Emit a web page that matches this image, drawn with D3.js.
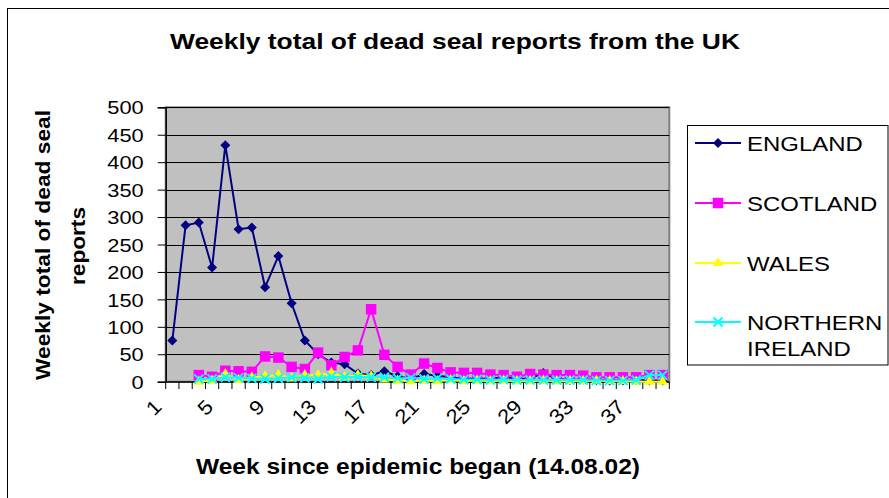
<!DOCTYPE html>
<html>
<head>
<meta charset="utf-8">
<script src="https://cdn.jsdelivr.net/npm/d3@7"></script>
<style>
  body { margin: 0; background: #fff; }
  text { font-family: Arial, "Liberation Sans", sans-serif; fill: #000; }
</style>
</head>
<body>
<svg id="chart" width="889" height="498"></svg>
<script>
// week categories
var weeks = [1,2,3,4,5,6,7,8,9,10,11,12,13,14,15,16,17,18,19,20,
             21,22,23,24,25,26,27,28,29,30,31,32,33,34,35,36,37,38];
var xTickLabels = [1,5,9,13,17,21,25,29,33,37];
var yTicks = [0,50,100,150,200,250,300,350,400,450,500];

// weekly dead seal reports
var england  = [75,285,290,208,431,278,281,172,229,143,75,50,35,32,15,12,19,10,5,14,
                11,8,5,6,5,9,5,6,16,5,3,4,3,2,2,3,2,2];
var scotland = [null,null,12,9,20,19,18,46,44,27,23,53,30,45,57,132,49,27,13,33,
                25,17,16,16,13,12,9,14,13,12,12,11,8,8,8,8,12,12];
var wales    = [null,null,0,2,14,3,8,10,12,6,12,12,16,8,12,10,4,2,1,2,
                1,3,1,2,1,2,1,1,2,1,1,1,2,1,1,0,0,0];
var nireland = [null,null,5,5,8,7,6,5,6,8,7,5,9,8,9,8,8,6,7,5,
                6,5,4,4,3,4,3,3,3,3,3,3,2,2,2,3,12,12];

var seriesNames  = ["ENGLAND","SCOTLAND","WALES","NORTHERN IRELAND"];
var seriesColors = ["#000080","#FF00FF","#FFFF00","#00FFFF"];
var seriesShapes = ["diamond","square","triangle","x"];

var svg = d3.select("#chart");

// stretch text horizontally like the original export
function stretch(sel, k) {
  sel.each(function() {
    var w = this.getComputedTextLength();
    d3.select(this).attr("textLength", w * k).attr("lengthAdjust", "spacingAndGlyphs");
  });
}

// outer chart frame (runs off the right/bottom edge)
svg.append("rect")
    .attr("x", 7.5).attr("y", 8.5)
    .attr("width", 900).attr("height", 510)
    .attr("fill", "#fff").attr("stroke", "#000").attr("stroke-width", 1);

var x = d3.scaleBand().domain(weeks).range([165.7, 669.3]).padding(0);
var y = d3.scaleLinear().domain([0, 500]).range([381.7, 107.3]);
var cx = function(d) { return x(d) + x.bandwidth() / 2; };

// plot area
svg.append("rect")
    .attr("x", 165.7).attr("y", 107.3)
    .attr("width", 669.3 - 165.7).attr("height", 381.7 - 107.3)
    .attr("fill", "#C0C0C0")
    .attr("stroke", "#808080").attr("stroke-width", 2);

// gridlines
svg.append("g")
  .selectAll("line")
  .data(yTicks.slice(1))
  .enter().append("line")
    .attr("x1", 165.7).attr("x2", 669.3)
    .attr("y1", function(d) { return Math.round(y(d)) + 0.5; })
    .attr("y2", function(d) { return Math.round(y(d)) + 0.5; })
    .attr("stroke", "#000").attr("stroke-width", 1);

// y axis
var yAxis = svg.append("g")
    .attr("transform", "translate(165.7,0)")
    .call(d3.axisLeft(y).tickValues(yTicks).tickSize(8).tickPadding(14));
yAxis.select(".domain").attr("stroke", "#000").attr("stroke-width", 1.5);
yAxis.selectAll(".tick line").attr("stroke", "#000");
yAxis.selectAll(".tick text")
    .attr("font-size", 18.5)
    .attr("font-family", "Arial, 'Liberation Sans', sans-serif")
    .attr("dy", "0.36em")
    .call(stretch, 1.18);

// x axis: ticks between categories
var xAxisG = svg.append("g");
xAxisG.append("line")
    .attr("x1", 165.7).attr("x2", 669.3)
    .attr("y1", 382).attr("y2", 382)
    .attr("stroke", "#000").attr("stroke-width", 1.5);
xAxisG.selectAll(".xt")
  .data(weeks)
  .enter().append("line")
    .attr("class", "xt")
    .attr("x1", function(d) { return x(d); })
    .attr("x2", function(d) { return x(d); })
    .attr("y1", 382).attr("y2", 389)
    .attr("stroke", "#000");
xAxisG.append("line")
    .attr("x1", 669.3).attr("x2", 669.3).attr("y1", 382).attr("y2", 389)
    .attr("stroke", "#000");

// rotated week labels
var labelX = d3.scaleLinear().domain([1, 37]).range([163, 626]);
xAxisG.selectAll(".xl")
  .data(xTickLabels)
  .enter().append("text")
    .attr("class", "xl")
    .attr("text-anchor", "end")
    .attr("font-size", 20)
    .attr("transform", function(d) { return "translate(" + labelX(d) + ",408) rotate(-45)"; })
    .text(function(d) { return d; })
    .call(stretch, 1.1);

// series
var seriesData = [england, scotland, wales, nireland];

function marker(g, shape, color) {
  if (shape === "diamond") {
    g.append("path").attr("d", d3.symbol().type(d3.symbolSquare).size(50)())
      .attr("transform", "rotate(45)").attr("fill", color);
  } else if (shape === "square") {
    g.append("path").attr("d", d3.symbol().type(d3.symbolSquare).size(110)())
      .attr("fill", color);
  } else if (shape === "triangle") {
    g.append("path").attr("d", d3.symbol().type(d3.symbolTriangle).size(48)())
      .attr("fill", color);
  } else {
    g.append("path").attr("d", "M-4.5,-4.5L4.5,4.5M-4.5,4.5L4.5,-4.5")
      .attr("stroke", color).attr("stroke-width", 2).attr("fill", "none");
  }
}

var line = d3.line()
    .defined(function(d) { return d.v !== null; })
    .x(function(d) { return cx(d.w); })
    .y(function(d) { return y(d.v); });

seriesData.forEach(function(vals, i) {
  var pts = weeks.map(function(w, j) { return { w: w, v: vals[j] }; });
  var g = svg.append("g").attr("class", "series");
  g.append("path")
      .datum(pts)
      .attr("d", line)
      .attr("fill", "none")
      .attr("stroke", seriesColors[i])
      .attr("stroke-width", 2);
  g.selectAll(".m")
    .data(pts.filter(function(d) { return d.v !== null; }))
    .enter().append("g")
      .attr("class", "m")
      .attr("transform", function(d) { return "translate(" + cx(d.w) + "," + y(d.v) + ")"; })
      .each(function() { marker(d3.select(this), seriesShapes[i], seriesColors[i]); });
});

// title
svg.append("text")
    .attr("x", 455).attr("y", 49)
    .attr("text-anchor", "middle")
    .attr("font-size", 22).attr("font-weight", "bold")
    .attr("textLength", 570).attr("lengthAdjust", "spacingAndGlyphs")
    .text("Weekly total of dead seal reports from the UK");

// axis titles
svg.append("text")
    .attr("transform", "translate(50,245) rotate(-90)")
    .attr("text-anchor", "middle")
    .attr("font-size", 20).attr("font-weight", "bold")
    .attr("textLength", 270).attr("lengthAdjust", "spacingAndGlyphs")
    .text("Weekly total of dead seal");
svg.append("text")
    .attr("transform", "translate(85,246) rotate(-90)")
    .attr("text-anchor", "middle")
    .attr("font-size", 20).attr("font-weight", "bold")
    .attr("textLength", 78).attr("lengthAdjust", "spacingAndGlyphs")
    .text("reports");
svg.append("text")
    .attr("x", 418).attr("y", 474)
    .attr("text-anchor", "middle")
    .attr("font-size", 22).attr("font-weight", "bold")
    .attr("textLength", 444).attr("lengthAdjust", "spacingAndGlyphs")
    .text("Week since epidemic began (14.08.02)");

// legend
var legend = svg.append("g");
legend.append("rect")
    .attr("x", 687.5).attr("y", 125.5)
    .attr("width", 200.5).attr("height", 239.5)
    .attr("fill", "#fff").attr("stroke", "#000").attr("stroke-width", 1);

var legendY = [143, 203, 263, 322];
seriesNames.forEach(function(name, i) {
  var g = legend.append("g").attr("transform", "translate(0," + legendY[i] + ")");
  g.append("line").attr("x1", 695).attr("x2", 741).attr("y1", 0).attr("y2", 0)
      .attr("stroke", seriesColors[i]).attr("stroke-width", 2);
  var m = g.append("g").attr("transform", "translate(718,0)");
  marker(m, seriesShapes[i], seriesColors[i]);
  var parts = name === "NORTHERN IRELAND" ? ["NORTHERN", "IRELAND"] : [name];
  parts.forEach(function(p, k) {
    g.append("text")
        .attr("x", 747).attr("y", k * 26)
        .attr("dy", "0.36em")
        .attr("font-size", 21)
        .text(p)
        .call(stretch, 1.14);
  });
});
</script>
</body>
</html>
